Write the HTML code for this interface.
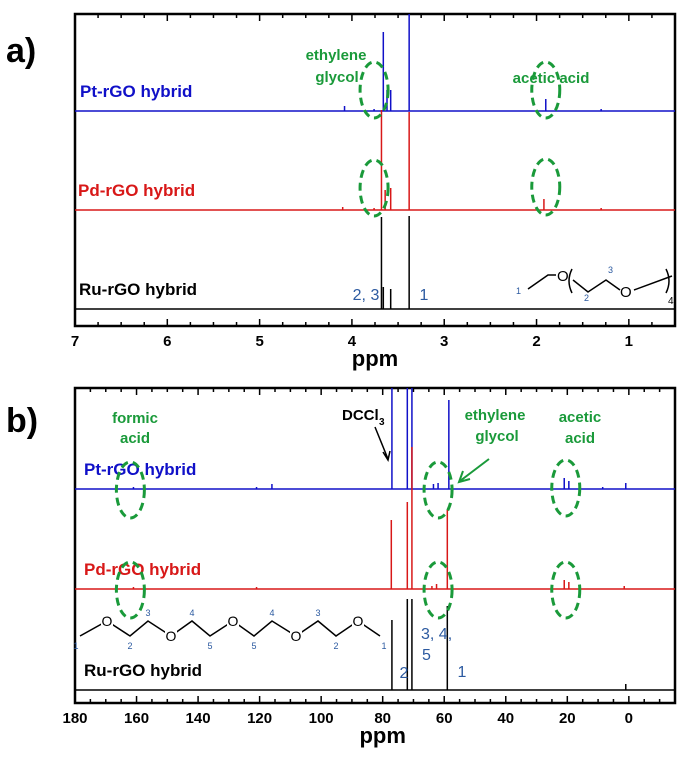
<!DOCTYPE html>
<html><head><meta charset="utf-8"><style>
body{margin:0;background:#fff}
svg text{font-family:"Liberation Sans",Arial,sans-serif}
</style></head><body>
<svg id="c" width="695" height="764" xmlns="http://www.w3.org/2000/svg"></svg>
<script>
// Panel a (1H NMR) data
const aTicks=[7,6,5,4,3,2,1];
const aPtPpm=[3.38,3.66,3.62,3.58,4.08,3.76,1.90,1.30];
const aPtH=[97,79,21,21,5,2,12,2];
const aPdPpm=[3.68,3.38,3.64,3.58,4.10,3.76,1.92,1.30];
const aPdH=[100,98,20,22,3,2,11,2];
const aRuPpm=[3.68,3.38,3.66,3.58];
const aRuH=[92,93,22,20];
// Panel b (13C NMR) data
const bTicks=[180,160,140,120,100,80,60,40,20,0];
const bPtPpm=[77,72,70.5,58.5,63.5,62,21,19.5,116,121,161,1,8.5];
const bPtH=[101,101,101,89,5,6,11,8,5,2,2,6,2];
const bPdPpm=[77.2,72,70.5,59,64,62.5,21,19.5,121,161,1.5];
const bPdH=[69,87,142,79,3,5,9,7,2,2,3];
const bRuPpm=[77,72,70.5,59,1];
const bRuH=[70,91,91,84,6];

const svg=document.getElementById('c');
const NS='http://www.w3.org/2000/svg';
function mk(tag,attrs,parent){const e=document.createElementNS(NS,tag);for(const k in attrs)e.setAttribute(k,attrs[k]);(parent||svg).appendChild(e);return e;}
function txt(s,x,y,size,fill,weight,anchor,name){const t=mk('text',{x:x,y:y,'font-size':size,fill:fill,'font-weight':weight||'normal','text-anchor':anchor||'start'});t.textContent=s;return t;}

function panel(o){
  const g=mk('g',{});
  
  
  const X=p=>o.x0+(o.p0-p)*(o.x1-o.x0)/(o.p0-o.p1);
  const fr=mk('rect',{x:o.x0,y:o.top,width:o.x1-o.x0,height:o.bot-o.top,fill:'none',stroke:'#000','stroke-width':2.5},g);
  
  
  for(let v=o.p0;v>=o.p1-1e-9;v-=o.minor){
    const major=Math.abs(v/o.major-Math.round(v/o.major))<1e-6;
    const L=major?7:4;
    const t1=mk('line',{x1:X(v),x2:X(v),y1:o.top,y2:o.top+L,stroke:'#000','stroke-width':1.5},g);
    
    
    const t2=mk('line',{x1:X(v),x2:X(v),y1:o.bot,y2:o.bot-L,stroke:'#000','stroke-width':1.5},g);
    
    
  }
  o.ticks.forEach(v=>{const t=txt(String(v),X(v),o.bot+20,15,'#000','bold','middle','x-tick-label');g.appendChild(t);});
  const xt=txt('ppm',X(o.ppmLabel),o.bot+40,22,'#000','bold','middle','x-axis-title');g.appendChild(xt);
  o.series.forEach(s=>{
    const bl=mk('line',{x1:o.x0,x2:o.x1,y1:s.base,y2:s.base,stroke:s.color,'stroke-width':1.5},g);
    
    
    s.ppm.forEach((p,i)=>{
      const y=Math.max(o.top,s.base-s.h[i]);
      const pk=mk('line',{x1:X(p),x2:X(p),y1:s.base,y2:y,stroke:s.color,'stroke-width':1.5},g);
      
      
    });
    const lb=txt(s.label,s.lx,s.base-14,17,s.color,'bold','start',s.key+'-label');g.appendChild(lb);
  });
  o.ellipses.forEach(e=>{
    const el=mk('ellipse',{cx:X(e[0]),cy:e[1],rx:14,ry:28,fill:'none',stroke:'#1a9a3a','stroke-width':3,'stroke-dasharray':'8,5'},g);
    
    
  });
  return X;
}

const XA=panel({name:'panel-a',x0:75,x1:675,top:14,bot:326,p0:7,p1:0.5,minor:0.25,major:1,ticks:aTicks,ppmLabel:3.75,
  series:[{key:'pt',color:'#1010c8',base:111,ppm:aPtPpm,h:aPtH,label:'Pt-rGO hybrid',lx:80},
          {key:'pd',color:'#d81818',base:210,ppm:aPdPpm,h:aPdH,label:'Pd-rGO hybrid',lx:78},
          {key:'ru',color:'#000',base:309,ppm:aRuPpm,h:aRuH,label:'Ru-rGO hybrid',lx:79}],
  ellipses:[[3.76,90],[3.76,188],[1.9,90],[1.9,187]]});
const XB=panel({name:'panel-b',x0:75,x1:675,top:388,bot:703,p0:180,p1:-15,minor:5,major:20,ticks:bTicks,ppmLabel:80,
  series:[{key:'pt',color:'#1010c8',base:489,ppm:bPtPpm,h:bPtH,label:'Pt-rGO hybrid',lx:84},
          {key:'pd',color:'#d81818',base:589,ppm:bPdPpm,h:bPdH,label:'Pd-rGO hybrid',lx:84},
          {key:'ru',color:'#000',base:690,ppm:bRuPpm,h:bRuH,label:'Ru-rGO hybrid',lx:84}],
  ellipses:[[162,490],[162,590],[62,490],[62,590],[20.5,488],[20.5,590]]});

txt('a)',6,62,34,'#000','bold','start','panel-a-letter');
txt('b)',6,432,34,'#000','bold','start','panel-b-letter');
const G='#1a9a3a',B='#2c5aa0';
txt('ethylene',336,60,15,G,'bold','middle','ethylene-glycol-annotation');
txt('glycol',337,82,15,G,'bold','middle','ethylene-glycol-annotation-2');
txt('acetic acid',551,83,15,G,'bold','middle','acetic-acid-annotation');
txt('2, 3',366,300,16,B,'normal','middle','peak-label-2-3');
txt('1',424,300,16,B,'normal','middle','peak-label-1');
const sa=mk('g',{});
mk('polyline',{points:'528,289 548,275 556,275',fill:'none',stroke:'#000','stroke-width':1.5},sa);
mk('polyline',{points:'573,280 588,292 606,280 620,290',fill:'none',stroke:'#000','stroke-width':1.5},sa);
mk('path',{d:'M572,269 Q566,281 572,293 M666,269 Q672,281 666,293',fill:'none',stroke:'#000','stroke-width':1.5},sa);
mk('line',{x1:634,y1:290,x2:672,y2:276,stroke:'#000','stroke-width':1.5},sa);
txt('O',557,281,15,'#000','normal','start','atom-o');txt('O',620,297,15,'#000','normal','start','atom-o');
txt('4',668,304,10,'#000','normal','start','repeat-4');
txt('1',516,294,9,B,'normal','start','atom-num');txt('2',584,301,9,B,'normal','start','atom-num');txt('3',608,273,9,B,'normal','start','atom-num');

txt('formic',135,423,15,G,'bold','middle','formic-acid-annotation');
txt('acid',135,443,15,G,'bold','middle','formic-acid-annotation-2');
txt('DCCl',342,420,15,'#000','bold','start','solvent-label');
txt('3',379,425,10,'#000','bold','start','solvent-subscript');
txt('ethylene',495,420,15,G,'bold','middle','ethylene-glycol-annotation-b');
txt('glycol',497,441,15,G,'bold','middle','ethylene-glycol-annotation-b2');
txt('acetic',580,422,15,G,'bold','middle','acetic-acid-annotation-b');
txt('acid',580,443,15,G,'bold','middle','acetic-acid-annotation-b2');
mk('path',{d:'M375,427 L388,459 M383,452 L388,460 L390,451',fill:'none',stroke:'#000','stroke-width':1.5});
mk('path',{d:'M489,459 L460,481 M463,471 L459,482 L470,479',fill:'none',stroke:G,'stroke-width':2});
txt('3, 4,',421,639,16,B,'normal','start','peak-label-3-4');
txt('5',422,660,16,B,'normal','start','peak-label-5');
txt('2',404,678,16,B,'normal','middle','peak-label-2');
txt('1',462,677,16,B,'normal','middle','peak-label-1b');
const sb=mk('g',{});
const chain=[['1',80,636],['O',107,621],['2',130,636],['3',148,621],['O',171,636],['4',192,621],['5',210,636],['O',233,621],['5',254,636],['4',272,621],['O',296,636],['3',318,621],['2',336,636],['O',358,621],['1',380,636]];
mk('polyline',{points:chain.map(c=>c[1]+','+c[2]).join(' '),fill:'none',stroke:'#000','stroke-width':1.5},sb);
chain.forEach(c=>{
  if(c[0]==='O'){mk('rect',{x:c[1]-6,y:c[2]-7,width:12,height:14,fill:'#fff'},sb);const t=txt('O',c[1],c[2]+5,14,'#000','normal','middle','atom-o');sb.appendChild(t);}
  else{const dy=c[2]>628?13:-5;const t=txt(c[0],c[1]+(c[0]==='1'?(c[1]<100?-4:4):0),c[2]+dy,9,B,'normal','middle','atom-num');sb.appendChild(t);}
});
</script>
</body></html>
